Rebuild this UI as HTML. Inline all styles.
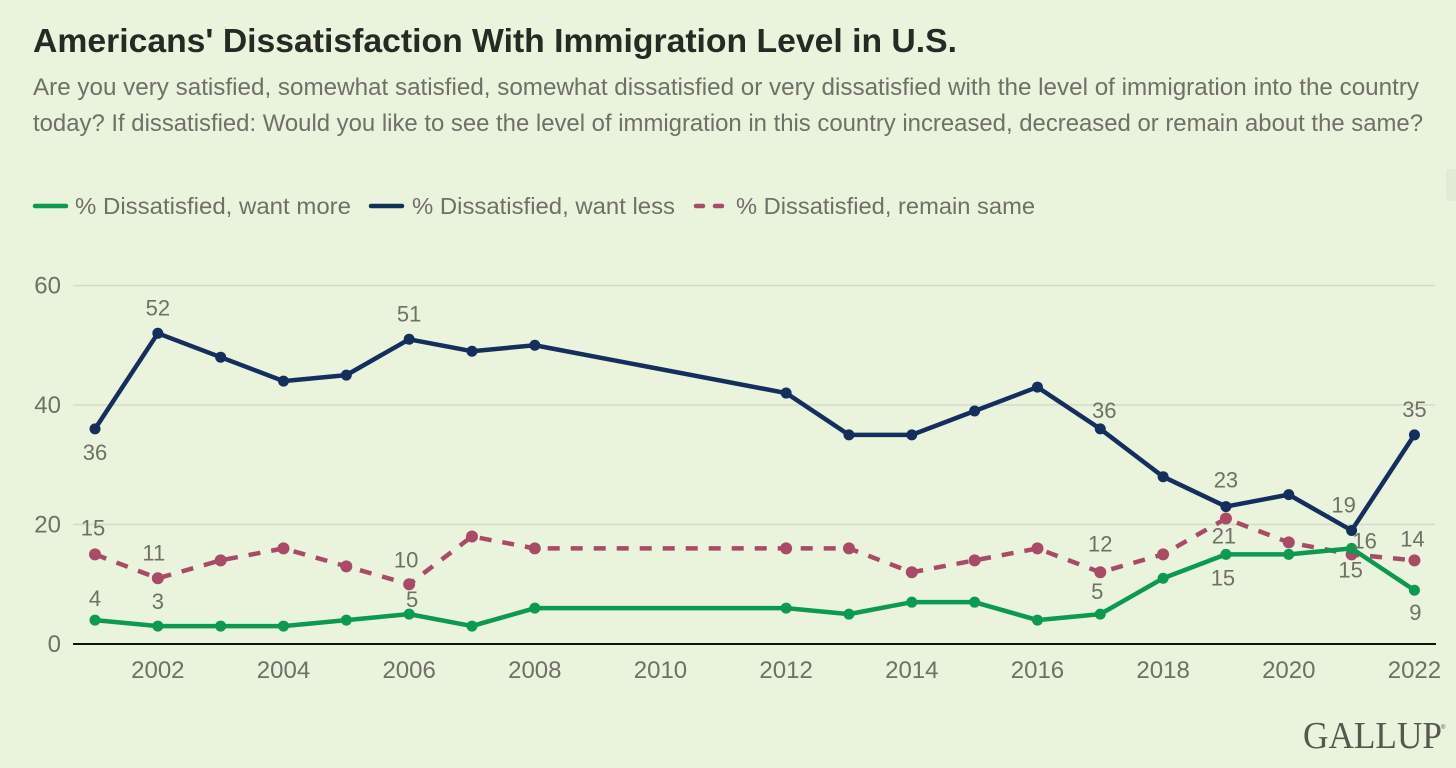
<!DOCTYPE html>
<html lang="en">
<head>
<meta charset="utf-8">
<title>Americans' Dissatisfaction With Immigration Level in U.S.</title>
<style>
  html, body { margin: 0; padding: 0; background: #eaf3dc; }
  body { width: 1456px; height: 768px; overflow: hidden; }
  svg { display: block; }
  text { font-family: "Liberation Sans", sans-serif; }
</style>
</head>
<body>
<svg id="chart" xmlns="http://www.w3.org/2000/svg" width="1456" height="768" viewBox="0 0 1456 768">
  <rect x="0" y="0" width="1456" height="768" fill="#eaf3dc"/>
  <rect x="1446" y="169" width="12" height="32" rx="4" fill="#e2ebd5"/>

  <text x="33" y="52" font-size="33" font-weight="700" fill="#262a25" textLength="924" lengthAdjust="spacingAndGlyphs">Americans' Dissatisfaction With Immigration Level in U.S.</text>
  <text x="33" y="95" font-size="24" fill="#6d7166" textLength="1386" lengthAdjust="spacingAndGlyphs">Are you very satisfied, somewhat satisfied, somewhat dissatisfied or very dissatisfied with the level of immigration into the country</text>
  <text x="33" y="131" font-size="24" fill="#6d7166" textLength="1390" lengthAdjust="spacingAndGlyphs">today? If dissatisfied: Would you like to see the level of immigration in this country increased, decreased or remain about the same?</text>

  <g>
    <g>
      <line x1="35" y1="206" x2="66" y2="206" stroke="#0a9a50" stroke-width="4.5" stroke-linecap="round"/>
      <text x="75" y="214" font-size="23" fill="#6d7166" textLength="276" lengthAdjust="spacingAndGlyphs">% Dissatisfied, want more</text>
    </g>
    <g>
      <line x1="371" y1="206" x2="402" y2="206" stroke="#142f5c" stroke-width="4.5" stroke-linecap="round"/>
      <text x="412" y="214" font-size="23" fill="#6d7166" textLength="263" lengthAdjust="spacingAndGlyphs">% Dissatisfied, want less</text>
    </g>
    <g>
      <line x1="696" y1="206" x2="726" y2="206" stroke="#a94b66" stroke-width="4.5" stroke-linecap="round" stroke-dasharray="7 12"/>
      <text x="736" y="214" font-size="23" fill="#6d7166" textLength="299" lengthAdjust="spacingAndGlyphs">% Dissatisfied, remain same</text>
    </g>
  </g>

  <g id="grid"></g>
  <g id="yticks"></g>
  <g id="xticks"></g>
  <line x1="73" y1="644" x2="1436" y2="644" stroke="#11130f" stroke-width="2"/>
  <g id="series"></g>
  <g id="labels"></g>

  <g>
    <text x="1303" y="748" font-size="38" fill="#55584f" textLength="139" lengthAdjust="spacingAndGlyphs" style="font-family:'Liberation Serif',serif">GALLUP</text>
    <text x="1441" y="729" font-size="6" fill="#55584f">®</text>
  </g>
</svg>

<script>
const years = [2001, 2002, 2003, 2004, 2005, 2006, 2007, 2008, 2012, 2013, 2014, 2015, 2016, 2017, 2018, 2019, 2020, 2021, 2022];
const wantMore = [4, 3, 3, 3, 4, 5, 3, 6, 6, 5, 7, 7, 4, 5, 11, 15, 15, 16, 9];
const wantLess = [36, 52, 48, 44, 45, 51, 49, 50, 42, 35, 35, 39, 43, 36, 28, 23, 25, 19, 35];
const remainSame = [15, 11, 14, 16, 13, 10, 18, 16, 16, 16, 12, 14, 16, 12, 15, 21, 17, 15, 14];
const yTicks = [0, 20, 40, 60];
const xTicks = [2002, 2004, 2006, 2008, 2010, 2012, 2014, 2016, 2018, 2020, 2022];
const moreLabelYears = [2001, 2002, 2006, 2017, 2019, 2021, 2022];
const lessLabelYears = [2001, 2002, 2006, 2017, 2019, 2021, 2022];
const sameLabelYears = [2001, 2002, 2006, 2017, 2019, 2021, 2022];
const moreLabelsBelow = [2019, 2022];
const lessLabelsBelow = [2001];
const sameLabelsBelow = [2019, 2021];

const NS = 'http://www.w3.org/2000/svg';
function xScale(year) { return 95 + (year - 2001) * 62.83; }
function yScale(value) { return 644 - value * 5.975; }

function make(tag, attrs, parent) {
  const el = document.createElementNS(NS, tag);
  Object.keys(attrs).forEach(function (k) { el.setAttribute(k, attrs[k]); });
  parent.appendChild(el);
  return el;
}

const gridGroup = document.getElementById('grid');
const yTickGroup = document.getElementById('yticks');
yTicks.forEach(function (t) {
  if (t !== 0) {
    const gl = make('line', { x1: 73, x2: 1435, y1: yScale(t), y2: yScale(t), stroke: '#d3dcc5', 'stroke-width': 1.5 }, gridGroup);
    
    
  }
  const lab = make('text', { x: 61, y: yScale(t) + 8, 'text-anchor': 'end', 'font-size': 24, fill: '#6d7166' }, yTickGroup);
  lab.textContent = t;
  
  
});

const xTickGroup = document.getElementById('xticks');
xTicks.forEach(function (t) {
  const lab = make('text', { x: xScale(t), y: 678, 'text-anchor': 'middle', 'font-size': 24, fill: '#6d7166' }, xTickGroup);
  lab.textContent = t;
  
  
});

function drawSeries(name, values, color, dash, radius) {
  const parent = document.getElementById('series');
  const g = make('g', {}, parent);
  
  
  const pts = values.map(function (v, i) { return xScale(years[i]) + ',' + yScale(v); }).join(' ');
  const line = make('polyline', { points: pts, fill: 'none', stroke: color, 'stroke-width': 4.5, 'stroke-linejoin': 'round' }, g);
  if (dash) { line.setAttribute('stroke-dasharray', dash); }
  
  
  values.forEach(function (v, i) {
    const c = make('circle', { cx: xScale(years[i]), cy: yScale(v), r: radius, fill: color }, g);
    
    
  });
}
drawSeries('remain-same', remainSame, '#a94b66', '12 11', 6);
drawSeries('want-less', wantLess, '#142f5c', null, 5.5);
drawSeries('want-more', wantMore, '#0a9a50', null, 5.5);

function nudge(name, year) {
  if (name === 'want-more') {
    if (year === 2001) return [0, 4];
    if (year === 2002) return [0, 1];
    if (year === 2006) return [3, 11];
    if (year === 2017) return [-3, 3];
    if (year === 2021) return [13, 18];
    if (year === 2019) return [-3, 0];
    if (year === 2022) return [1, -1];
  }
  if (name === 'want-less') {
    if (year === 2017) return [4, 7];
    if (year === 2019) return [0, -1];
    if (year === 2021) return [-8, 0];
  }
  if (name === 'remain-same') {
    if (year === 2001) return [-2, -1];
    if (year === 2002) return [-4, 0];
    if (year === 2006) return [-3, 1];
    if (year === 2017) return [0, -3];
    if (year === 2019) return [-2, -6];
    if (year === 2021) return [-1, -8];
    if (year === 2022) return [-2, 4];
  }
  return [0, 0];
}

function drawLabels(name, values, labelYears, belowYears) {
  const parent = document.getElementById('labels');
  labelYears.forEach(function (year) {
    const v = values[years.indexOf(year)];
    const isBelow = belowYears.indexOf(year) !== -1;
    const off = nudge(name, year);
    const lab = make('text', {
      x: xScale(year) + off[0],
      y: yScale(v) + (isBelow ? 31 : -18) + off[1],
      'text-anchor': 'middle',
      'font-size': 22,
      fill: '#6d7166'
    }, parent);
    lab.textContent = v;
    
    
  });
}
drawLabels('want-more', wantMore, moreLabelYears, moreLabelsBelow);
drawLabels('want-less', wantLess, lessLabelYears, lessLabelsBelow);
drawLabels('remain-same', remainSame, sameLabelYears, sameLabelsBelow);
</script>
</body>
</html>
